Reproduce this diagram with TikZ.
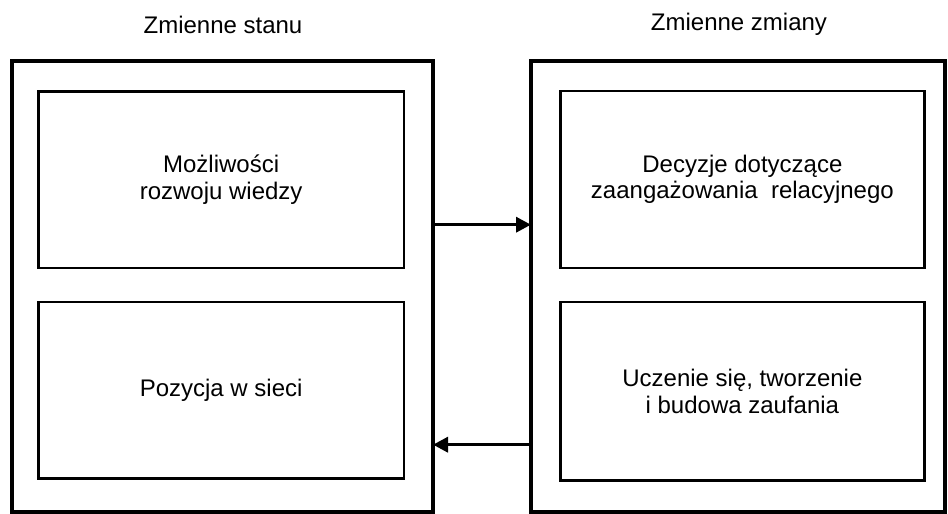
\documentclass[tikz,border=0pt]{standalone}
\usepackage{fontspec}
\setmainfont{Liberation Sans}
\usetikzlibrary{arrows.meta}
\begin{document}
\begin{tikzpicture}[x=1pt,y=-1pt,
  txt/.style={font=\fontsize{24}{26.5}\selectfont, align=center},
  outerbox/.style={draw, line width=4pt, outer sep=0pt, inner sep=0pt},
  innerbox/.style={draw, line width=2.5pt, outer sep=0pt, txt},
  flow/.style={line width=3.5pt, -{Triangle[length=15pt,width=15pt]}}]
\useasboundingbox (0,0) rectangle (948,514);

% outer frames
\node[outerbox, minimum width=421.5pt, minimum height=451.5pt] (L) at (222.25,286.25) {};
\node[outerbox, minimum width=414pt, minimum height=451.5pt] (R) at (738,286.25) {};

% titles
\node[txt, anchor=base] (tl) at (223,33) {Zmienne stanu};
\node[txt, anchor=base] (tr) at (739,30) {Zmienne zmiany};

% inner boxes
\node[innerbox, minimum width=365.7pt, minimum height=176.7pt] (lt) at (221.15,179.65)
  {Możliwości\\rozwoju wiedzy};
\node[innerbox, minimum width=365.7pt, minimum height=176.7pt] (lb) at (221.15,390.35)
  {Pozycja w sieci};
\node[innerbox, minimum width=364.2pt, minimum height=177pt] (rt) at (742.4,179.5)
  {Decyzje dotyczące\\zaangażowania\ \ relacyjnego};
\node[innerbox, minimum width=364.2pt, minimum height=178.7pt] (rb) at (742.4,391.35)
  {Uczenie się, tworzenie\\i budowa zaufania};

% connectors between the frames
\coordinate (ya) at (0,224.7);
\coordinate (yb) at (0,444.7);
\draw[flow] (L.east |- ya) -- (R.west |- ya);
\draw[flow] (R.west |- yb) -- (L.east |- yb);
\end{tikzpicture}
\end{document}
